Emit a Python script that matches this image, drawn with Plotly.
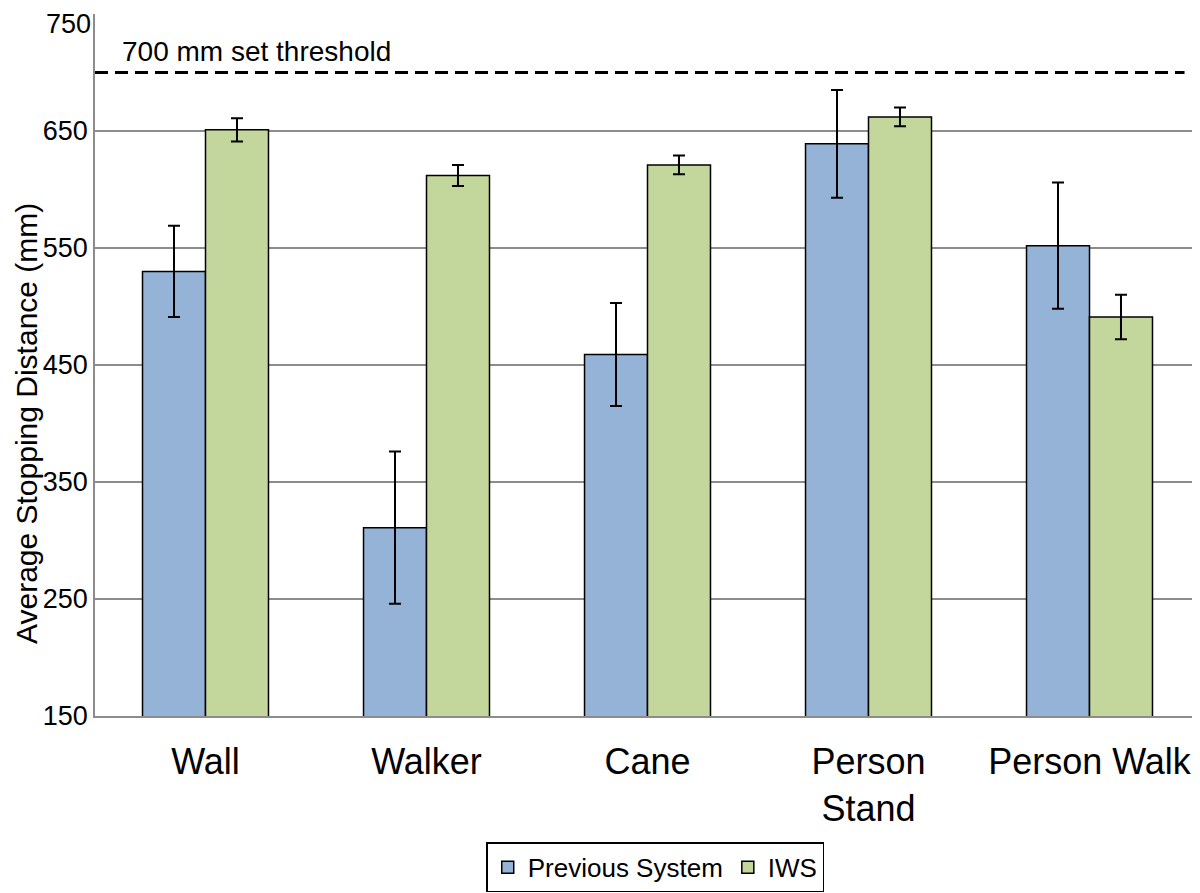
import plotly.graph_objects as go

categories = ["Wall", "Walker", "Cane", "Person<br>Stand", "Person Walk"]
prev_values = [530, 311, 459, 639, 552]
prev_errors = [39, 65, 44, 46, 54]
iws_values = [651, 612, 621, 662, 491]
iws_errors = [10, 9, 8, 8, 19]
threshold = 700
y_ticks = [150, 250, 350, 450, 550, 650, 750]
y_tick_labels = ["150", "250", "350", "450", "550", "650", ""]
top_tick_label = "750"

FONT = "Liberation Sans, Arial, Helvetica, sans-serif"

fig = go.Figure()
fig.add_trace(go.Bar(
    x=categories, y=prev_values, name="Previous System",
    marker=dict(color="#95b3d7", line=dict(color="black", width=1.5)),
    error_y=dict(type="data", array=prev_errors, color="black", thickness=2, width=6),
))
fig.add_trace(go.Bar(
    x=categories, y=iws_values, name="IWS",
    marker=dict(color="#c3d69b", line=dict(color="black", width=1.5)),
    error_y=dict(type="data", array=iws_errors, color="black", thickness=2, width=6),
))

fig.add_shape(type="line", xref="paper", yref="y", x0=0, x1=0.986,
              y0=threshold, y1=threshold,
              line=dict(color="black", width=3, dash="13px,7px"))
fig.add_annotation(xref="paper", yref="y", x=0.0225, y=threshold,
                   text="700 mm set threshold", showarrow=False,
                   xanchor="left", yanchor="bottom", yshift=3,
                   font=dict(family=FONT, size=28, color="black"))
fig.add_annotation(xref="paper", yref="paper", x=-0.0615, y=0.416,
                   text="Average Stopping Distance (mm)", showarrow=False,
                   textangle=-90, xanchor="center", yanchor="middle", borderpad=0,
                   font=dict(family=FONT, size=30, color="black"))
fig.add_annotation(xref="paper", yref="paper", x=0, y=1.008,
                   text=top_tick_label, showarrow=False,
                   xanchor="right", yanchor="top", xshift=-3, borderpad=0,
                   font=dict(family=FONT, size=27, color="black"))

fig.update_layout(
    width=1192, height=885,
    paper_bgcolor="white", plot_bgcolor="white",
    margin=dict(l=87, r=0, t=6, b=177),
    barmode="group", bargap=0.43, bargroupgap=0,
    font=dict(family=FONT, color="black"),
    showlegend=True,
    legend=dict(orientation="h", x=0.507, xanchor="center", y=-0.18, yanchor="top",
                bordercolor="black", borderwidth=1.5,
                font=dict(family=FONT, size=26, color="black"),
                itemwidth=30, tracegroupgap=0),
)
fig.update_yaxes(range=[150, 750], tickvals=y_ticks, ticktext=y_tick_labels,
                 automargin=False,
                 showgrid=True, gridcolor="#8c8c8c", gridwidth=1.5,
                 showline=True, linecolor="#8c8c8c", linewidth=1.5,
                 ticks="", ticklabelstandoff=0, ticklabeloverflow="allow",
                 tickfont=dict(family=FONT, size=27, color="black"),
                 zeroline=False)
fig.update_xaxes(showline=True, linecolor="#8c8c8c", linewidth=1.5, automargin=False,
                 ticks="", ticklabelstandoff=13, ticklabeloverflow="allow",
                 tickfont=dict(family=FONT, size=36, color="black"))

fig.write_html("out.html")
